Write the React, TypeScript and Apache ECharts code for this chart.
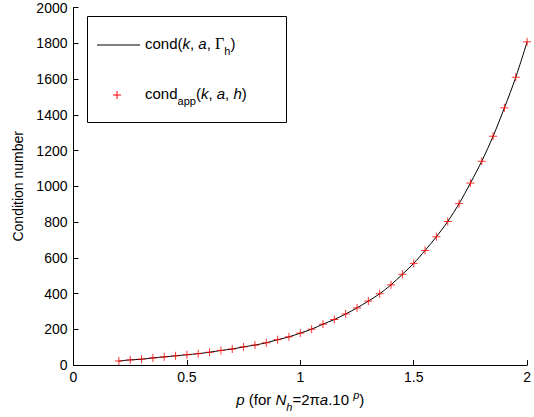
import React, { useEffect, useRef } from "react";
import * as echarts from "echarts";

const pValues = [
  0.2, 0.25, 0.3, 0.35, 0.4, 0.45, 0.5, 0.55, 0.6, 0.65, 0.7, 0.75, 0.8, 0.85, 0.9, 0.95,
  1.0, 1.05, 1.1, 1.15, 1.2, 1.25, 1.3, 1.35, 1.4, 1.45, 1.5, 1.55, 1.6, 1.65, 1.7, 1.75,
  1.8, 1.85, 1.9, 1.95, 2.0,
];

// cond(k, a, Γh) — black line
const condExact = [
  23, 29, 33, 40, 46, 52, 58, 64, 72, 82, 90, 102, 112, 125, 142, 158,
  179, 201, 229, 255, 286, 320, 358, 399, 449, 508, 569, 641, 718, 803, 903, 1018,
  1140, 1280, 1439, 1610, 1808,
];

// cond_app(k, a, h) — red plus markers
const condApp = [
  23, 29, 33, 40, 46, 52, 58, 64, 72, 82, 90, 102, 112, 125, 142, 158,
  179, 201, 229, 255, 286, 320, 358, 399, 449, 508, 569, 641, 718, 803, 903, 1018,
  1140, 1280, 1439, 1610, 1808,
];

const xTicks = { min: 0, max: 2, interval: 0.5 };
const yTicks = { min: 0, max: 2000, interval: 200 };

const FONT = "Liberation Sans, Arial, Helvetica, sans-serif";

export default function App() {
  const ref = useRef<HTMLDivElement>(null);
  useEffect(() => {
    document.body.style.margin = "0";
    const chart = echarts.init(ref.current!, undefined, { renderer: "svg" });
    const legendRich = {
      n: { fontSize: 15, fontFamily: FONT, color: "#000" },
      i: { fontSize: 15, fontFamily: FONT, fontStyle: "italic", color: "#000" },
      g: { fontSize: 16, fontFamily: "Liberation Serif, serif", color: "#000" },
      s: { fontSize: 11, fontFamily: FONT, color: "#000", padding: [16, 0, 0, 0] },
    };
    chart.setOption({
      animation: false,
      backgroundColor: "#fff",
      grid: { left: 73.5, right: 4, top: 7.5, bottom: 48.5 },
      xAxis: {
        type: "value",
        min: xTicks.min,
        max: xTicks.max,
        interval: xTicks.interval,
        name: "{i|p}{n| (for }{i|N}{s|h}{n|=2π}{i|a}{n|.10 }{sup|p}{n|)}",
        nameLocation: "middle",
        nameGap: 20,
        nameTextStyle: {
          rich: {
            n: { fontSize: 15, fontFamily: FONT, color: "#000" },
            i: { fontSize: 15, fontFamily: FONT, fontStyle: "italic", color: "#000" },
            s: { fontSize: 11, fontFamily: FONT, fontStyle: "italic", color: "#000", padding: [14, 0, 0, 0] },
            sup: { fontSize: 11, fontFamily: FONT, fontStyle: "italic", color: "#000", padding: [0, 0, 10, 0] },
          },
        },
        axisLine: { show: true, onZero: false, lineStyle: { color: "#000", width: 1 } },
        axisTick: { show: true, inside: true, length: 5, lineStyle: { color: "#000" } },
        axisLabel: { color: "#000", fontSize: 14, fontFamily: FONT, margin: 5 },
        splitLine: { show: false },
      },
      yAxis: {
        type: "value",
        min: yTicks.min,
        max: yTicks.max,
        interval: yTicks.interval,
        name: "Condition number",
        nameLocation: "middle",
        nameGap: 47,
        nameTextStyle: { color: "#000", fontSize: 14, fontFamily: FONT },
        axisLine: { show: true, onZero: false, lineStyle: { color: "#000", width: 1 } },
        axisTick: { show: true, inside: true, length: 5, lineStyle: { color: "#000" } },
        axisLabel: {
          color: "#000",
          fontSize: 14,
          fontFamily: FONT,
          margin: 6,
          formatter: (v: number) => String(v),
        },
        splitLine: { show: false },
      },
      series: [
        {
          name: "cond",
          type: "line",
          data: pValues.map((p, i) => [p, condExact[i]]),
          showSymbol: false,
          symbol: "none",
          smooth: 0.3,
          lineStyle: { color: "#000", width: 1 },
          z: 2,
        },
        {
          name: "cond_app",
          type: "scatter",
          data: pValues.map((p, i) => [p, condApp[i]]),
          symbol: "path://M0,5L10,5M5,0L5,10",
          symbolSize: 8,
          itemStyle: { color: "#ff0000", borderColor: "#ff0000", borderWidth: 1 },
          z: 3,
        },
      ],
      graphic: [
        {
          type: "rect",
          shape: { x: 87.5, y: 16.5, width: 199, height: 106 },
          style: { fill: "#fff", stroke: "#000", lineWidth: 1 },
          z: 10,
        },
        {
          type: "line",
          shape: { x1: 97, y1: 45, x2: 140, y2: 45 },
          style: { stroke: "#000", lineWidth: 1 },
          z: 11,
        },
        {
          type: "text",
          x: 145,
          y: 43,
          style: {
            text: "{n|cond(}{i|k}{n|, }{i|a}{n|, }{g|Γ}{s|h}{n|)}",
            rich: legendRich,
            verticalAlign: "middle",
            align: "left",
          },
          z: 11,
        },
        {
          type: "line",
          shape: { x1: 113, y1: 95, x2: 121, y2: 95 },
          style: { stroke: "#ff0000", lineWidth: 1 },
          z: 11,
        },
        {
          type: "line",
          shape: { x1: 117, y1: 91, x2: 117, y2: 99 },
          style: { stroke: "#ff0000", lineWidth: 1 },
          z: 11,
        },
        {
          type: "text",
          x: 145,
          y: 93,
          style: {
            text: "{n|cond}{s|app}{n|(}{i|k}{n|, }{i|a}{n|, }{i|h}{n|)}",
            rich: legendRich,
            verticalAlign: "middle",
            align: "left",
          },
          z: 11,
        },
      ],
    });
    return () => chart.dispose();
  }, []);
  return <div ref={ref} style={{ width: 534, height: 417 }} />;
}
